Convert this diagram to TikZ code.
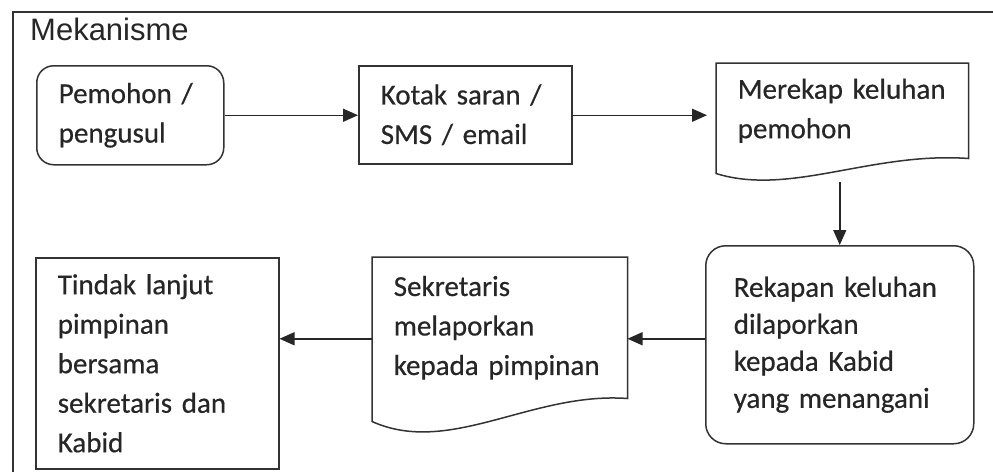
\documentclass[tikz,border=0pt]{standalone}
\usepackage{fontspec}
\usepackage{xcolor}
\usepackage{tikz}
\usetikzlibrary{arrows.meta, calc}

\newfontfamily\boxfont[WordSpace=0.6, FakeBold=0.5]{Carlito}
\newfontfamily\titlefont{Liberation Sans}

\tikzset{
    box/.style={draw=black!80, line width=1.5pt, align=left, inner xsep=22pt, inner ysep=0pt,
        anchor=north west, text=black!85, font={\boxfont\fontsize{29}{39.5}\selectfont}},
    roundbox/.style={box, rounded corners=17pt},
    docbox/.style={box, draw=none},
    docline/.style={draw=black!80, line width=1.5pt},
    flow/.style={draw=black!85, line width=1.5pt, -{Triangle[length=15pt,width=13pt]}},
}

\begin{document}
\begin{tikzpicture}[x=1pt, y=-1pt]
    \useasboundingbox (0,0) rectangle (993,472);

    % Frame and title
    \draw[line width=1.5pt, black!80] (13,472) -- (13,12) -- (993,12);
    \node[anchor=base west, inner sep=0pt, text=black!85, font={\titlefont\fontsize{31}{36}\selectfont}] (title) at (30,40) {Mekanisme};

    % Top row
    \node[roundbox, minimum width=187pt, minimum height=99pt, text width=143pt] (pemohon) at (36,65) {Pemohon /\\pengusul};
    \node[box, minimum width=213pt, minimum height=98pt, text width=169pt] (kotak) at (358,65) {Kotak saran /\\SMS / email};
    \node[docbox, minimum width=251pt, minimum height=94pt, text width=209pt, inner xsep=21pt] (merekap) at (716,63) {Merekap keluhan\\pemohon};
    \draw[docline] (merekap.south east)
        .. controls ($(merekap.south east)+(-97,-7)$) and ($(merekap.south west)+(74,38)$) .. ($(merekap.south west)+(0,15)$)
        -- (merekap.north west) -- (merekap.north east) -- cycle;

    % Bottom row
    \node[roundbox, rounded corners=20pt, minimum width=268pt, minimum height=198pt, text width=212pt, inner xsep=28pt,
        font={\boxfont\fontsize{29}{37}\selectfont}] (rekapan) at (705,245) {Rekapan keluhan\\dilaporkan\\kepada Kabid\\yang menangani};
    \node[docbox, minimum width=254pt, minimum height=140pt, text width=212pt, inner xsep=21pt] (sekretaris) at (372,257) {Sekretaris\\melaporkan\\kepada pimpinan};
    \draw[docline] (sekretaris.south east)
        .. controls ($(sekretaris.south east)+(-96,-7)$) and ($(sekretaris.south west)+(78,58)$) .. ($(sekretaris.south west)+(0,23)$)
        -- (sekretaris.north west) -- (sekretaris.north east) -- cycle;
    \node[box, minimum width=243pt, minimum height=211pt, text width=199pt] (tindak) at (35,257) {Tindak lanjut\\pimpinan\\bersama\\sekretaris dan\\Kabid};

    % Arrows
    \coordinate (lowrow) at ($(sekretaris.east)+(0,11)$);
    \draw[flow] (pemohon.east) -- (kotak.west |- pemohon.east);
    \draw[flow, shorten >=9pt] (kotak.east |- pemohon.east) -- (merekap.west |- pemohon.east);
    \draw[flow, shorten <=23pt] (rekapan.north |- merekap.south) -- (rekapan.north);
    \draw[flow] (rekapan.west |- lowrow) -- (sekretaris.east |- lowrow);
    \draw[flow] (sekretaris.west |- lowrow) -- (tindak.east |- lowrow);

\end{tikzpicture}
\end{document}
